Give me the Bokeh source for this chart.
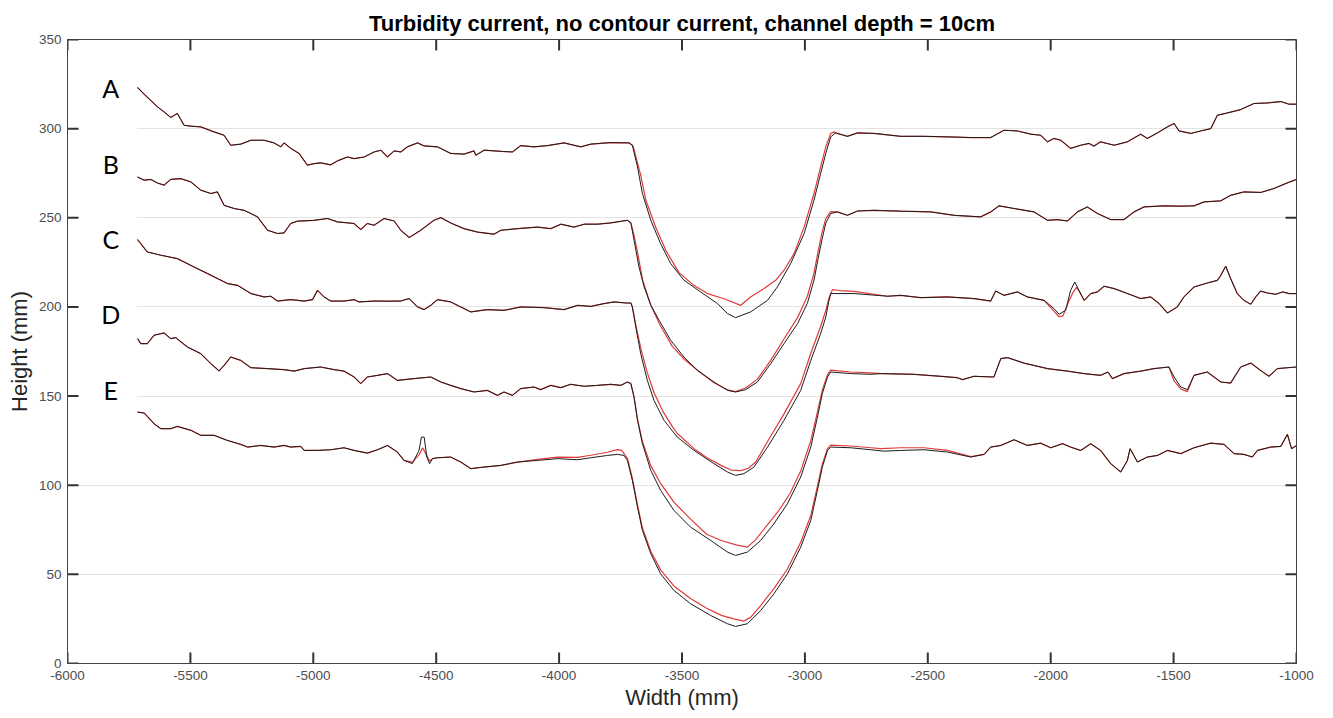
from bokeh.plotting import figure
from bokeh.models import FixedTicker, Range1d
from bokeh.embed import file_html
from bokeh.resources import INLINE
from bokeh.core.properties import value

# ---------------- data ----------------
A_x = [-5715,-5688,-5634,-5607,-5580,-5553,-5526,-5498,-5458,-5404,-5363,-5336,-5295,-5254,-5200,-5160,-5132,-5119,-5092,-5058,
       -5024,-4997,-4970,-4929,-4902,-4861,-4834,-4793,-4753,-4725,-4698,-4671,-4644,-4617,-4576,-4549,-4495,-4441,-4387,-4346,
       -4339,-4305,-4237,-4190,-4156,-4102,-4047,-3980,-3912,-3871,-3790,-3715,-3702,-3681,-3661,-3627,-3587,-3546,-3492,-3424,
       -3356,-3315,-3282,-3221,-3152,-3112,-3058,-3003,-2963,-2936,-2915,-2895,-2875,-2827,-2786,-2719,-2691,-2610,-2515,-2420,
       -2325,-2244,-2190,-2135,-2081,-2041,-2013,-1987,-1959,-1919,-1878,-1844,-1824,-1797,-1742,-1688,-1634,-1607,-1566,-1525,
       -1498,-1478,-1430,-1390,-1349,-1322,-1281,-1227,-1173,-1118,-1064,-1030,-1000]
A_y = [323.1,319.3,312.2,309.4,306.3,308.5,301.9,301.4,301.0,298.2,296.3,290.7,291.3,293.5,293.5,292.0,289.8,292.0,289.0,286.1,
       279.5,280.4,280.8,279.7,281.9,284.1,283.2,284.1,286.9,287.9,284.1,287.5,286.9,289.8,292.0,290.3,289.8,286.1,285.7,287.5,
       285.1,287.9,287.3,286.9,290.5,289.8,290.5,292.0,289.8,291.3,292.2,292.0,290.7,278.5,263.6,248.6,235.5,224.3,215.0,208.4,
       201.9,196.3,194.0,197.2,203.7,211.2,224.3,241.2,259.9,274.8,286.1,295.4,297.6,295.7,297.6,297.3,296.9,295.7,295.7,295.4,
       295.0,295.0,299.1,298.7,296.9,296.3,292.6,294.5,293.5,288.9,290.7,291.7,290.2,292.6,290.7,292.6,296.9,294.5,297.6,301.0,
       302.9,298.7,297.3,298.7,300.0,307.5,308.8,310.7,314.1,314.4,315.2,313.7,313.7]

B_x = [-5715,-5688,-5661,-5634,-5607,-5580,-5539,-5498,-5458,-5417,-5390,-5363,-5322,-5282,-5254,-5227,-5186,-5146,-5119,-5092,
       -5064,-4997,-4942,-4902,-4834,-4807,-4780,-4753,-4712,-4671,-4644,-4610,-4563,-4509,-4481,-4441,-4387,-4332,-4265,-4237,
       -4169,-4088,-4034,-3993,-3939,-3898,-3844,-3790,-3722,-3708,-3695,-3675,-3654,-3627,-3593,-3546,-3492,-3437,-3370,-3315,
       -3282,-3241,-3193,-3139,-3085,-3030,-2990,-2963,-2945,-2930,-2915,-2895,-2868,-2827,-2786,-2719,-2610,-2488,-2393,-2285,
       -2244,-2210,-2149,-2068,-2013,-1973,-1932,-1891,-1851,-1810,-1756,-1702,-1661,-1620,-1539,-1471,-1417,-1376,-1308,-1268,
       -1214,-1146,-1092,-1037,-1000]
B_y = [272.9,271.1,271.5,269.5,268.3,271.5,272.0,270.1,265.5,263.6,264.5,257.0,255.2,254.2,252.4,250.5,243.0,241.2,241.5,246.8,
       248.1,248.6,249.6,247.7,246.8,243.4,246.8,245.8,249.6,248.2,243.0,238.9,243.0,248.6,250.1,247.1,243.9,242.0,240.8,243.0,
       243.9,244.8,243.9,246.4,244.8,246.4,246.4,247.1,248.6,247.1,237.4,222.4,211.2,201.0,192.5,181.3,171.9,164.4,157.9,153.2,
       152.3,153.6,157.9,168.2,179.4,190.6,202.0,215.0,228.0,238.0,247.0,252.4,253.3,251.4,253.8,254.2,253.7,253.3,251.4,250.5,
       253.3,256.7,255.2,253.3,248.6,249.0,248.2,253.3,256.1,252.4,249.0,249.0,253.3,256.1,256.7,256.5,256.7,258.9,259.5,262.6,
       264.5,264.2,266.4,269.6,271.5]

C_x = [-5715,-5675,-5620,-5553,-5485,-5430,-5349,-5308,-5254,-5200,-5173,-5146,-5092,-5037,-5003,-4983,-4956,-4929,-4875,-4834,
       -4814,-4753,-4698,-4644,-4610,-4576,-4549,-4522,-4495,-4441,-4400,-4359,-4292,-4224,-4156,-4061,-3980,-3925,-3871,-3817,
       -3776,-3729,-3708,-3702,-3688,-3668,-3641,-3614,-3573,-3519,-3451,-3370,-3315,-3282,-3248,-3207,-3152,-3085,-3017,-2976,
       -2936,-2915,-2902,-2895,-2880,-2800,-2664,-2610,-2529,-2420,-2312,-2244,-2224,-2190,-2135,-2095,-2027,-1986,-1966,-1939,
       -1919,-1902,-1885,-1864,-1837,-1810,-1783,-1742,-1688,-1634,-1593,-1559,-1525,-1485,-1458,-1417,-1363,-1322,-1308,-1288,
       -1268,-1241,-1214,-1186,-1166,-1146,-1118,-1084,-1057,-1030,-1000]
C_y = [237.8,230.8,229.0,227.1,222.4,218.7,213.1,212.1,207.5,205.6,206.0,203.3,204.1,203.3,204.1,209.3,205.6,203.3,203.3,204.1,
       202.8,203.3,203.2,203.3,204.7,200.0,198.5,200.9,204.1,202.8,200.0,197.2,198.5,198.1,200.0,199.6,198.5,200.9,200.3,201.9,
       202.8,202.2,202.2,200.0,188.7,173.8,158.8,147.6,136.4,127.0,119.5,112.1,107.4,105.5,106.5,110.2,121.4,136.4,153.2,170.0,
       185.0,194.3,203.7,207.5,207.5,207.5,206.0,206.5,205.2,205.6,204.7,203.3,208.9,206.5,208.4,205.6,203.7,199.0,195.9,198.1,
       209.3,214.0,209.3,203.7,207.5,208.4,211.6,210.3,207.5,204.7,205.6,201.9,196.6,200.0,205.6,211.2,213.4,214.9,217.7,222.8,
       215.9,207.5,203.7,201.5,205.6,208.9,207.8,207.1,208.4,207.5,207.5]

D_x = [-5715,-5702,-5675,-5648,-5607,-5580,-5560,-5512,-5458,-5417,-5383,-5363,-5336,-5295,-5254,-5186,-5119,-5078,-5037,-4970,
       -4915,-4875,-4834,-4807,-4780,-4739,-4698,-4658,-4590,-4522,-4481,-4441,-4400,-4346,-4292,-4251,-4224,-4190,-4156,-4102,
       -4075,-4034,-3993,-3953,-3898,-3844,-3790,-3749,-3722,-3708,-3695,-3681,-3661,-3627,-3587,-3533,-3465,-3383,-3315,-3282,
       -3234,-3180,-3126,-3071,-3017,-2976,-2949,-2929,-2908,-2895,-2813,-2732,-2691,-2556,-2447,-2380,-2359,-2312,-2231,-2203,
       -2176,-2109,-2013,-1932,-1864,-1797,-1767,-1749,-1702,-1634,-1580,-1519,-1498,-1471,-1444,-1417,-1363,-1308,-1268,-1227,
       -1186,-1146,-1112,-1078,-1037,-1000]
D_y = [182.2,179.4,179.4,184.1,185.4,182.2,182.8,177.5,173.8,168.2,164.1,167.2,171.9,170.0,165.9,165.4,164.8,164.0,165.4,166.3,
       164.8,164.0,160.7,157.0,160.7,161.6,162.6,158.8,159.8,160.7,157.9,156.0,154.2,152.3,153.2,150.4,152.3,150.4,154.2,155.1,
       153.6,156.0,154.7,156.6,155.5,156.0,156.6,156.0,157.9,157.0,149.4,136.4,123.3,108.3,97.1,85.9,76.5,69.0,62.5,60.6,
       62.5,69.0,78.4,89.6,104.6,121.4,138.2,151.4,160.7,163.5,162.6,162.2,162.6,162.2,161.1,160.3,159.2,161.1,160.7,171.0,
       171.6,168.5,165.4,164.0,162.6,161.6,163.5,159.8,162.6,164.0,165.4,166.3,160.7,155.1,153.6,161.6,163.5,157.9,157.3,166.3,
       168.5,164.4,161.1,165.4,165.9,166.3]

E_x = [-5715,-5688,-5648,-5620,-5580,-5553,-5498,-5458,-5404,-5349,-5295,-5268,-5214,-5160,-5119,-5092,-5051,-5037,-4983,-4929,
       -4875,-4834,-4780,-4739,-4698,-4658,-4631,-4597,-4570,-4560,-4549,-4538,-4527,-4515,-4495,-4441,-4400,-4359,-4305,-4237,
       -4169,-4088,-4007,-3925,-3871,-3803,-3763,-3736,-3722,-3702,-3681,-3661,-3627,-3587,-3533,-3465,-3383,-3315,-3282,-3234,
       -3180,-3126,-3071,-3017,-2976,-2949,-2929,-2908,-2895,-2813,-2732,-2678,-2610,-2515,-2420,-2325,-2271,-2244,-2203,-2149,
       -2095,-2041,-2000,-1952,-1919,-1878,-1837,-1797,-1756,-1715,-1688,-1677,-1647,-1607,-1566,-1525,-1471,-1417,-1349,-1295,
       -1254,-1214,-1180,-1159,-1105,-1064,-1037,-1020,-1000]
E_y = [141.0,140.5,134.5,131.7,131.7,133.0,130.8,128.0,128.0,125.1,122.9,121.4,122.3,121.4,122.3,121.4,121.8,119.5,119.5,119.9,
       121.0,119.5,118.0,119.9,122.3,118.6,113.9,112.1,119.5,127.0,127.0,115.8,112.1,114.9,115.4,115.8,113.0,109.3,110.2,111.1,
       113.0,113.9,114.9,114.3,115.4,116.7,117.3,116.7,113.9,102.7,87.7,74.6,61.6,50.3,41.0,33.5,26.9,22.3,20.8,22.3,
       29.7,39.1,50.3,65.3,80.3,97.1,110.2,119.5,121.4,121.0,119.9,119.1,119.5,119.9,118.6,115.8,117.3,121.4,122.3,125.5,
       122.3,123.6,121.0,123.3,121.4,119.5,123.3,119.5,112.1,107.4,113.9,120.5,113.0,115.8,116.7,119.5,117.7,121.0,123.6,122.9,
       117.7,117.3,115.8,119.5,121.4,121.8,128.5,120.5,122.3]

# red (second) profiles: where they visibly depart from the black ones
RA_x = [-3702,-3698,-3668,-3647,-3607,-3566,-3513,-3452,-3396,-3329,-3261,-3221,-3166,-3119,-3085,-3044,-3003,-2963,-2936,-2915,-2895,-2881]
RA_y = [290.7,289.8,273.9,259.8,244.7,231.8,219.4,212.1,207.5,204.6,200.9,205.6,210.3,214.9,220.6,229.9,244.9,263.6,278.5,289.8,297.3,298.2]

RB_x = [-3708,-3695,-3680,-3660,-3627,-3590,-3540,-3490,-3437,-3370,-3315,-3282,-3241,-3193,-3139,-3085,-3030,-2990,-2963,-2945,-2930,-2915,-2895]
RB_y = [247.1,240.0,230.0,215.0,201.0,190.0,178.0,170.5,164.5,157.5,153.5,152.5,154.5,159.5,170.0,182.0,194.0,206.0,219.0,232.0,242.0,249.5,253.5]

RC_x = [-3708,-3702,-3688,-3668,-3641,-3614,-3580,-3540,-3519,-3451,-3400,-3340,-3300,-3260,-3230,-3200,-3152,-3085,-3017,-2976,-2936,-2915,-2902,-2888,-2860,-2800]
RC_y = [202.2,200.0,190.0,177.0,163.0,152.0,142.0,133.0,129.0,120.5,115.5,111.0,108.5,108.2,109.5,113.0,124.5,140.0,157.0,174.0,189.0,198.0,205.0,209.7,209.2,208.7]
RC2_x = [-2027,-1986,-1966,-1950,-1930,-1910,-1895,-1885,-1864]
RC2_y = [203.7,197.5,194.5,195.0,202.0,208.0,211.0,209.0,203.7]

RD_x = [-3708,-3695,-3681,-3661,-3627,-3587,-3533,-3465,-3400,-3340,-3280,-3234,-3200,-3160,-3110,-3060,-3017,-2976,-2949,-2929,-2908,-2895,-2813,-2732]
RD_y = [157.0,149.4,137.0,124.5,111.0,101.0,90.5,81.0,72.5,69.0,66.5,65.3,69.5,76.5,85.0,95.5,108.0,125.0,141.0,153.5,162.0,164.5,163.5,163.0]
RD2_x = [-1519,-1498,-1471,-1444,-1417]
RD2_y = [166.3,158.5,154.0,152.5,161.6]

RE1_x = [-4631,-4597,-4570,-4555,-4540,-4527,-4515]
RE1_y = [113.9,113.0,117.0,121.0,117.0,113.5,114.9]
RE2_x = [-4169,-4088,-4007,-3925,-3871,-3803,-3763,-3745,-3722,-3702,-3681,-3661,-3627,-3587,-3533,-3465,-3400,-3340,-3290,-3248,
         -3220,-3180,-3126,-3071,-3017,-2976,-2949,-2929,-2908,-2895,-2813,-2732,-2691,-2610,-2515,-2420,-2325,-2271]
RE2_y = [113.0,114.5,115.8,115.6,116.8,118.5,120.0,119.5,115.0,104.0,89.0,76.0,63.0,52.5,43.5,36.5,31.0,27.0,25.0,23.8,
         26.0,32.5,42.0,53.0,68.0,83.0,99.5,112.0,120.5,122.5,122.0,121.0,120.5,121.0,121.0,119.5,116.0,117.3]

labels = ["A", "B", "C", "D", "E"]
label_y = [322.7, 280.3, 238.0, 195.9, 153.5]
label_x = [-5824] * 5

x_ticks = [-6000, -5500, -5000, -4500, -4000, -3500, -3000, -2500, -2000, -1500, -1000]
y_ticks = [0, 50, 100, 150, 200, 250, 300, 350]


def with_patches(bx, by, patches):
    xs, ys = list(bx), list(by)
    for px, py in patches:
        lo, hi = px[0], px[-1]
        pts = [(a, b) for a, b in zip(xs, ys) if a < lo or a > hi] + list(zip(px, py))
        pts.sort(key=lambda t: t[0])
        xs = [t[0] for t in pts]
        ys = [t[1] for t in pts]
    return xs, ys


profiles = [
    (A_x, A_y, [(RA_x, RA_y)]),
    (B_x, B_y, [(RB_x, RB_y)]),
    (C_x, C_y, [(RC_x, RC_y), (RC2_x, RC2_y)]),
    (D_x, D_y, [(RD_x, RD_y), (RD2_x, RD2_y)]),
    (E_x, E_y, [(RE1_x, RE1_y), (RE2_x, RE2_y)]),
]

AXIS_COL = "#444444"
TICK_COL = "#333333"
TICK_TXT = "#4d4d4d"
FONT = "Liberation Sans"

W, H = 1333, 718
BL, BR, BT, BB = 67, 37, 39, 55
X0, X1, Y0, Y1 = -6000, -1000, 0, 350

p = figure(width=W, height=H, x_range=Range1d(X0, X1), y_range=Range1d(Y0, Y1),
           output_backend="svg", toolbar_location=None,
           min_border_left=BL, min_border_right=BR, min_border_top=BT, min_border_bottom=BB)
p.background_fill_color = "white"
p.border_fill_color = "white"
p.outline_line_color = AXIS_COL

p.title.text = "Turbidity current, no contour current, channel depth = 10cm"
p.title.align = "center"
p.title.text_font = FONT
p.title.text_font_size = "22px"
p.title.text_font_style = "bold"
p.title.text_color = "black"
p.title.standoff = 8

for ax, ticks in ((p.xaxis[0], x_ticks), (p.yaxis[0], y_ticks)):
    ax.ticker = FixedTicker(ticks=ticks)
    ax.major_label_overrides = {t: str(t) for t in ticks}
    ax.axis_line_color = AXIS_COL
    ax.major_tick_line_color = None
    ax.major_tick_in = 0
    ax.major_tick_out = 0
    ax.minor_tick_line_color = None
    ax.major_label_text_font = FONT
    ax.major_label_text_font_size = "13.5px"
    ax.major_label_text_color = TICK_TXT
    ax.axis_label_text_font = FONT
    ax.axis_label_text_font_size = "22px"
    ax.axis_label_text_font_style = "normal"
    ax.axis_label_text_color = "#262626"

p.xaxis.major_label_standoff = 7
p.yaxis.major_label_standoff = 6
p.xaxis.axis_label_standoff = 2
p.yaxis.axis_label_standoff = 4
p.xaxis.axis_label = "Width (mm)"
p.yaxis.axis_label = "Height (mm)"

p.xgrid.visible = False
p.ygrid.ticker = FixedTicker(ticks=y_ticks)
p.ygrid.grid_line_color = "#e3e3e3"
p.ygrid.grid_line_width = 1

# inward ticks on all four sides of the box (11 px long), drawn first in the glyph layer
TICK_PX = 11
fw, fh = W - BL - BR, H - BT - BB
tx = TICK_PX * (X1 - X0) / fw
ty = TICK_PX * (Y1 - Y0) / fh
tick_x0 = x_ticks + x_ticks + [X0] * len(y_ticks) + [X1] * len(y_ticks)
tick_x1 = x_ticks + x_ticks + [X0 + tx] * len(y_ticks) + [X1 - tx] * len(y_ticks)
tick_y0 = [Y0] * len(x_ticks) + [Y1] * len(x_ticks) + y_ticks + y_ticks
tick_y1 = [Y0 + ty] * len(x_ticks) + [Y1 - ty] * len(x_ticks) + y_ticks + y_ticks
p.segment(x0=tick_x0, y0=tick_y0, x1=tick_x1, y1=tick_y1, line_color=TICK_COL, line_width=2)

# white panel behind the A-E letters (as in the source figure)
p.quad(left=[-5952], right=[-5717], bottom=[128], top=[346], fill_color="white", line_color=None)

for bx, by, patches in profiles:
    rx, ry = with_patches(bx, by, patches)
    p.line(rx, ry, line_color="#e03a3a", line_width=1.2)
for bx, by, patches in profiles:
    p.line(bx, by, line_color="#1c1c1c", line_width=1.0)

p.text(x=label_x, y=label_y, text=labels, text_font=value("Lato"), text_font_size="25px",
       text_align="center", text_baseline="middle", text_color="black")

open("out.html", "w").write(file_html(p, INLINE))
